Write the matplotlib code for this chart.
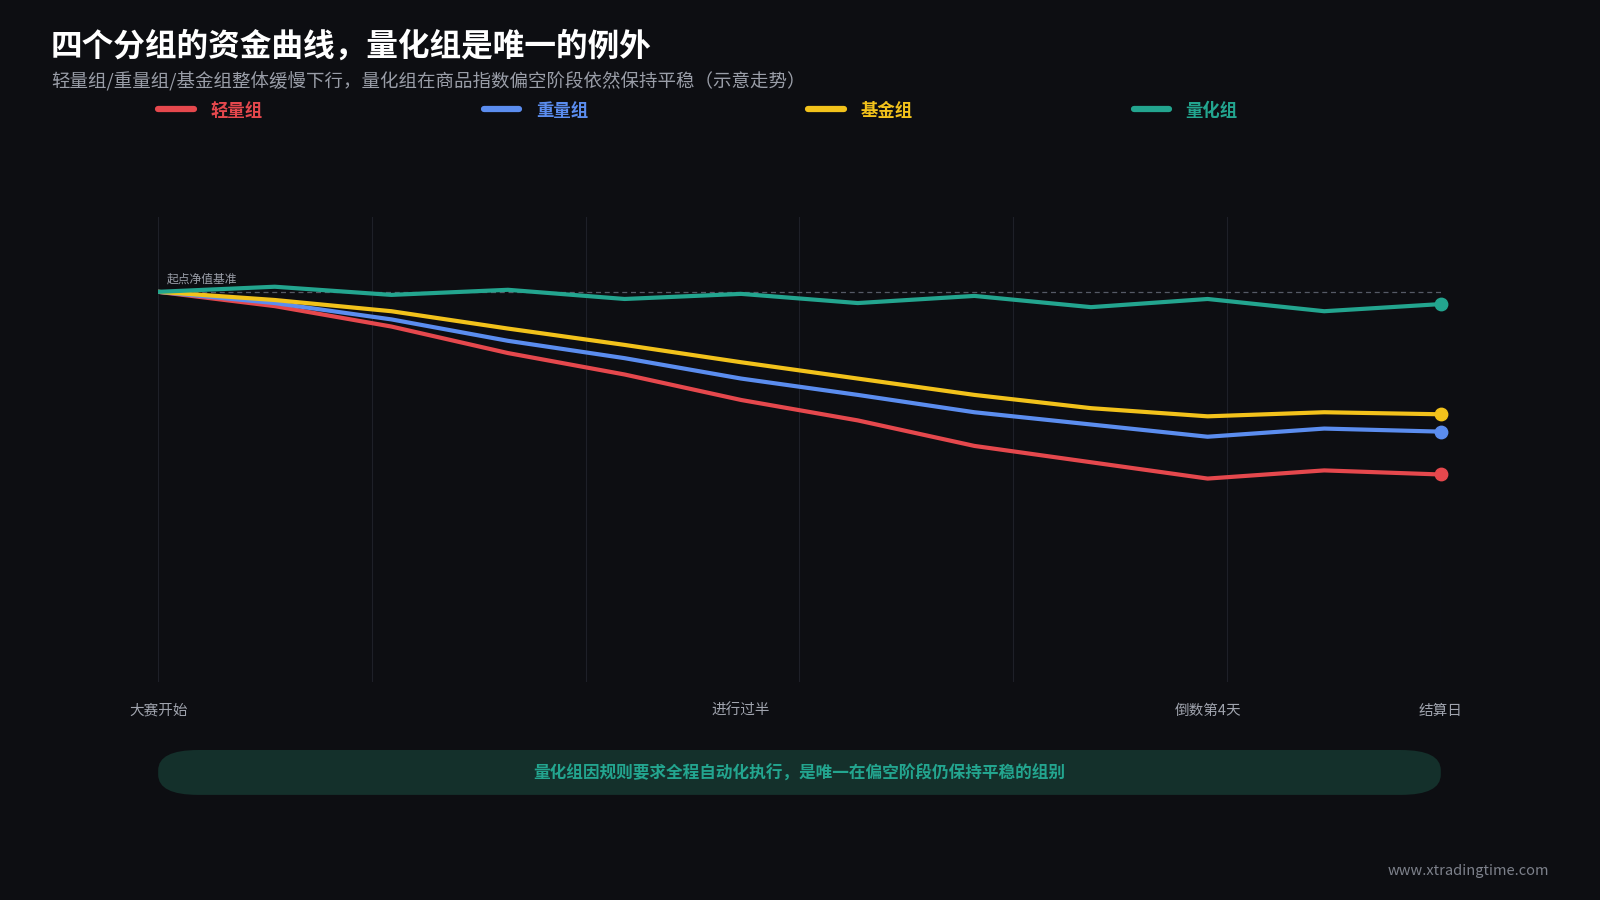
import matplotlib
matplotlib.use("Agg")
import matplotlib.pyplot as plt
from matplotlib.patches import FancyBboxPatch

plt.rcParams['font.family'] = ['Noto Sans CJK SC', 'DejaVu Sans']

x = list(range(12))
xtick_pos = [0, 5, 9, 11]
xtick_labels = ["大赛开始", "进行过半", "倒数第4天", "结算日"]
names = ["轻量组", "重量组", "基金组", "量化组"]
colors = ["#e5484d", "#5b8def", "#f2c21b", "#23a58f"]
light = [100, 98.6, 96.6, 94.0, 91.9, 89.4, 87.4, 84.9, 83.3, 81.7, 82.5, 82.1]
heavy = [100, 98.9, 97.3, 95.2, 93.5, 91.5, 89.9, 88.2, 87.0, 85.8, 86.6, 86.3]
fund = [100, 99.2, 98.1, 96.4, 94.8, 93.1, 91.5, 89.9, 88.6, 87.8, 88.2, 88.0]
quant = [100, 100.5, 99.7, 100.2, 99.3, 99.8, 98.9, 99.6, 98.5, 99.3, 98.1, 98.8]
series = [light, heavy, fund, quant]

bg = "#0d0e12"
fig = plt.figure(figsize=(16, 9), dpi=100, facecolor=bg)
W, H = 1568, 882
ax = fig.add_axes([155/W, 1-668/H, (1412-155)/W, (668-213)/H])
ax.set_facecolor(bg)
ax.set_xlim(0, 11)
ax.set_ylim(61.8, 107.3)
for s in ax.spines.values():
    s.set_visible(False)
ax.set_yticks([])
for gx in [i*11/6 for i in range(7)]:
    ax.axvline(gx, color="#1e2028", lw=0.8, zorder=0)
ax.axhline(100, color="#555a66", lw=0.9, ls=(0, (4, 3)), zorder=1)
ax.text(0.07, 100.6, "起点净值基准", color="#9a9ea8", fontsize=8.5, va="bottom")
for s, c in zip(series, colors):
    ax.plot(x, s, color=c, lw=3, solid_capstyle="round", zorder=3)
    ax.scatter([x[-1]], [s[-1]], color=c, s=80, zorder=4, clip_on=False)
ax.set_xticks(xtick_pos)
ax.set_xticklabels(xtick_labels, color="#a0a4ae", fontsize=10.5)
ax.tick_params(axis="x", length=0, pad=16)

fig.text(50/W, 1-46/H, "四个分组的资金曲线，量化组是唯一的例外", color="white",
         fontsize=22.8, fontweight="bold", va="center")
fig.text(50/W, 1-80/H, "轻量组/重量组/基金组整体缓慢下行，量化组在商品指数偏空阶段依然保持平稳（示意走势）",
         color="#9a9ea8", fontsize=13.3, va="center")
lx = [155, 474, 792, 1111]
for px, n, c in zip(lx, names, colors):
    fig.add_artist(plt.Line2D([px/W, (px+35)/W], [1-107/H, 1-107/H], color=c, lw=4.5,
                              solid_capstyle="round"))
    fig.text((px+51)/W, 1-109/H, n, color=c, fontsize=12.5, fontweight="bold", va="center")

pill = FancyBboxPatch((155/W, 1-779/H), (1412-155)/W, 44/H,
                      boxstyle="round,pad=0,rounding_size=0.025", transform=fig.transFigure,
                      facecolor="#14302b", edgecolor="none", mutation_aspect=H/W*1.6)
fig.add_artist(pill)
fig.text(783/W, 1-758/H, "量化组因规则要求全程自动化执行，是唯一在偏空阶段仍保持平稳的组别",
         color="#23a58f", fontsize=12, fontweight="bold", ha="center", va="center")
fig.text(1518/W, 1-854/H, "www.xtradingtime.com", color="#7d818b", fontsize=10.5,
         ha="right", va="center")
fig.savefig("out.png", dpi=100, facecolor=bg)
